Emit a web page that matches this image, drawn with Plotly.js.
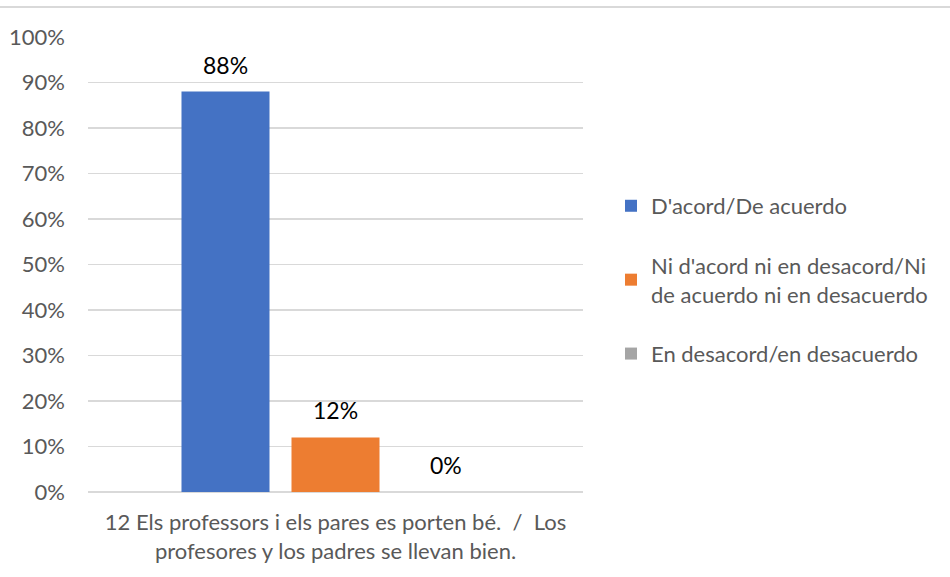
<!DOCTYPE html>
<html><head><meta charset="utf-8">
<script src="https://cdn.plot.ly/plotly-3.0.1.min.js"></script>
<style>body{margin:0;background:#fff}#c{width:950px;height:577px}</style>
</head><body><div id="c"></div>
<script>
const categories = ["12 Els professors i els pares es porten bé.  /  Los<br>profesores y los padres se llevan bien."];
const seriesNames = ["D'acord/De acuerdo", "Ni d'acord ni en desacord/Ni<br>de acuerdo ni en desacuerdo", "En desacord/en desacuerdo"];
const seriesValues = [[0.88], [0.12], [0.00]];
const seriesLabels = [["88%"], ["12%"], ["0%"]];
const colors = ["#4472C4", "#ED7D31", "#A5A5A5"];
const tickVals = [0,0.1,0.2,0.3,0.4,0.5,0.6,0.7,0.8,0.9,1.0];
const tickText = ["0%","10%","20%","30%","40%","50%","60%","70%","80%","90%","100%"];

const FONT = "Lato, 'Liberation Sans', sans-serif";
const traces = seriesNames.map((n,i)=>({
  type:'bar', name:n, x:categories, y:seriesValues[i],
  marker:{color:colors[i]}, legendgroup:'g'+i, hoverinfo:'none'
}));
const slot = 110;
const annotations = [];
seriesValues.forEach((vals,i)=>vals.forEach((v,j)=>{
  annotations.push({x:categories[j], y:v, xref:'x', yref:'y', text:seriesLabels[i][j],
    showarrow:false, xshift:(i-1)*slot, yshift:27, yanchor:'middle',
    font:{family:FONT, size:23, color:'#000'}});
}));
const W=495, H=455;
const layout = {
  width:950, height:577,
  margin:{l:88, r:367, t:37, b:85},
  paper_bgcolor:'#fff', plot_bgcolor:'#fff',
  barmode:'group', bargap:0.3333, bargroupgap:0.2,
  font:{family:FONT, color:'#595959', size:22},
  xaxis:{showgrid:false, showline:false, ticks:'', tickfont:{size:22, color:'#595959'}, ticklabelstandoff:15},
  yaxis:{range:[0,1], tickvals:tickVals, ticktext:tickText, showgrid:true, gridcolor:'#D9D9D9', gridwidth:1.5,
    zeroline:true, zerolinecolor:'#D9D9D9', zerolinewidth:1.5, showline:false, ticks:'', ticklabelstandoff:22,
    tickfont:{size:22, color:'#595959'}, fixedrange:true},
  legend:{x:(611-88)/W, xanchor:'left', y:0.466, yanchor:'middle', font:{size:22, color:'#595959'},
    tracegroupgap:28, itemwidth:30, bgcolor:'rgba(0,0,0,0)'},
  annotations:annotations,
  shapes:[{type:'line', xref:'paper', yref:'paper', x0:-88/W, x1:(950-88)/W, y0:1+(37-7)/H, y1:1+(37-7)/H,
    line:{color:'#D9D9D9', width:2}}]
};
Plotly.newPlot('c', traces, layout, {displayModeBar:false, staticPlot:true});
</script></body></html>
